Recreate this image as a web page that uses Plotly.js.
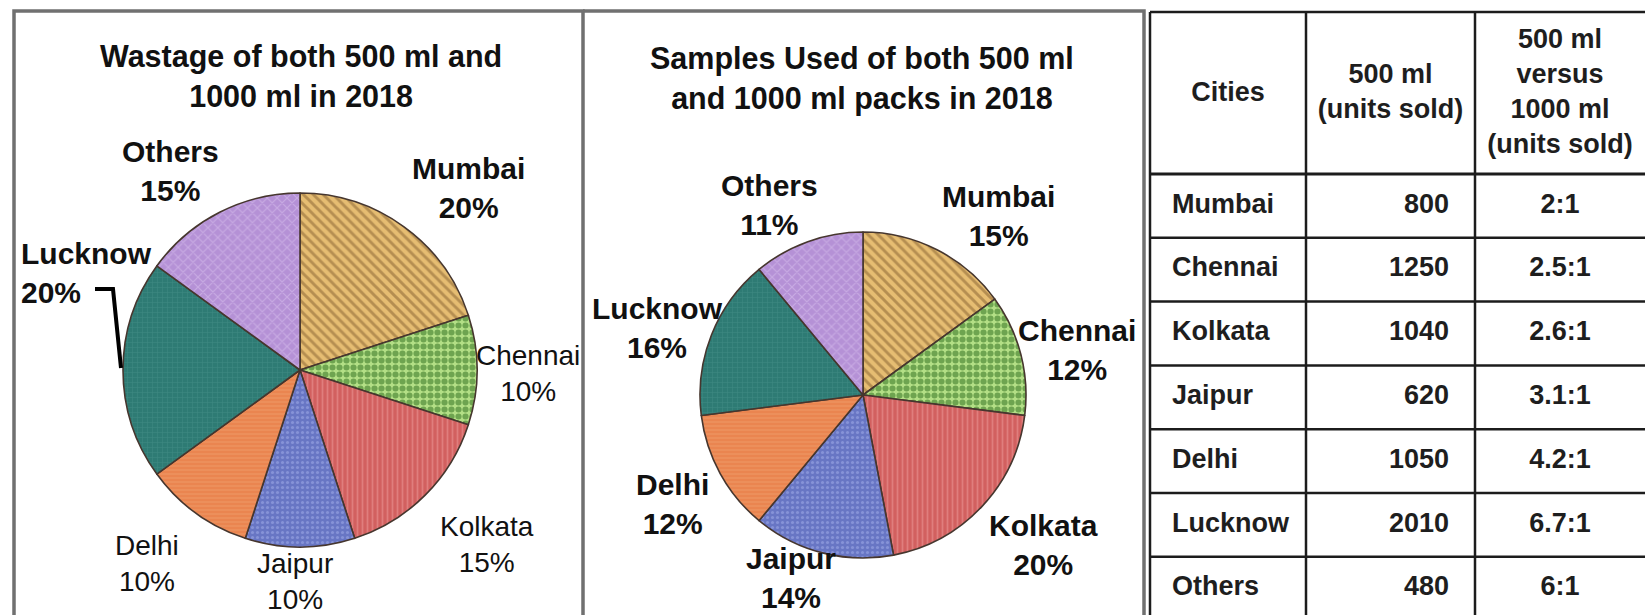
<!DOCTYPE html>
<html><head><meta charset="utf-8">
<script src="https://cdn.plot.ly/plotly-3.0.1.min.js"></script>
<style>html,body{margin:0;padding:0;background:#fff}#chart{width:1645px;height:615px}</style>
</head><body><div id="chart"></div>
<script>
// ---------- data ----------
const cities = ["Mumbai","Chennai","Kolkata","Jaipur","Delhi","Lucknow","Others"];
const wastagePct = [20,10,15,10,10,20,15];
const samplesPct = [15,12,20,14,12,16,11];
const units500 = [800,1250,1040,620,1050,2010,480];
const ratio500vs1000 = ["2:1","2.5:1","2.6:1","3.1:1","4.2:1","6.7:1","6:1"];
const tableHeaders = ["Cities","500 ml<br>(units sold)","500 ml<br>versus<br>1000 ml<br>(units sold)"];
const titleWastage = "Wastage of both 500 ml and<br>1000 ml in 2018";
const titleSamples = "Samples Used of both 500 ml<br>and 1000 ml packs in 2018";

// ---------- styles / layout constants ----------
const W = 1645, H = 615;
const FONT = "Liberation Sans, Arial, Helvetica, sans-serif";
const sliceColors = ["#e6bd72","#b3df86","#d2605f","#6876c4","#ea8550","#2e7b74","#b591d6"];
const patternFg   = ["#84602f","#2a6a1a","#ee9c9c","#a3b0ea","#f4aa7c","#4f9890","#dcc6f0"];
const patternShape= ["\\",".","|",".","-","+","x"];
const patternSize = [7,7,5,5,4,5,7];
const patternSolid= [0.42,0.6,0.35,0.3,0.25,0.2,0.3];

function pieDomain(cx, cy, r){
  return {x:[(cx-r)/W,(cx+r)/W], y:[(H-cy-r)/H,(H-cy+r)/H]};
}
function pieTrace(values, dom){
  return {
    type:'pie', labels:cities, values:values, sort:false, direction:'clockwise', rotation:0,
    textinfo:'none', hoverinfo:'label+percent', domain:dom, showlegend:false,
    marker:{colors:sliceColors, line:{color:'#46362e', width:1.6},
      pattern:{shape:patternShape, fgcolor:patternFg, size:patternSize, solidity:patternSolid, fillmode:'overlay'}}
  };
}

// label positions (pixel, centre) and weights for each pie
const leftLabelPos = [[468,188],[528,373],[487,544],[295,581],[147,563],[19,273],[170,171]];
const leftLabelBold= [true,false,false,false,false,true,true];
const rightLabelPos= [[998,216],[1077,350],[1043,545],[791,578],[672,504],[657,328],[769,205]];

const annotations = [];
function addLabels(pos, vals, boldArr){
  cities.forEach((c,i)=>{
    const isLeftAnchored = (pos[i][0] < 40);
    annotations.push({xref:'x', yref:'y', x:pos[i][0], y:pos[i][1], showarrow:false,
      text:c+"<br>"+vals[i]+"%", align: isLeftAnchored?'left':'center',
      xanchor: isLeftAnchored?'left':'center', yanchor:'middle',
      font:{family:FONT, size: boldArr[i]?30:28, color:'#111', weight: boldArr[i]?'bold':'normal'}});
  });
}
addLabels(leftLabelPos, wastagePct, leftLabelBold);
addLabels(rightLabelPos, samplesPct, cities.map(()=>true));

annotations.push({xref:'x', yref:'y', x:301, y:76, text:titleWastage, showarrow:false, xanchor:'center', yanchor:'middle',
  font:{family:FONT, size:30.5, color:'#111', weight:'bold'}});
annotations.push({xref:'x', yref:'y', x:862, y:78, text:titleSamples, showarrow:false, xanchor:'center', yanchor:'middle',
  font:{family:FONT, size:30.5, color:'#111', weight:'bold'}});

// ---------- table geometry ----------
const colX = [1150, 1306, 1475, 1660];
const tableTop = 12, headerBottom = 174, rowH = 63.8;
const rowY = cities.map((_,i)=> headerBottom + (i+0.5)*rowH);

const shapes = [];
// panel borders
const grey = {color:'#707070', width:3.5};
shapes.push({type:'path', xref:'x', yref:'y', path:`M 14 ${H+5} L 14 11 L 583 11 L 583 ${H+5}`, line:grey});
shapes.push({type:'path', xref:'x', yref:'y', path:`M 583 11 L 1144 11 L 1144 ${H+5}`, line:grey});
// table lines
const blk = {color:'#1c1c1c', width:2.5};
shapes.push({type:'line', xref:'x', yref:'y', x0:colX[0], x1:W+5, y0:tableTop, y1:tableTop, line:blk});
shapes.push({type:'line', xref:'x', yref:'y', x0:colX[0], x1:W+5, y0:headerBottom, y1:headerBottom, line:{color:'#1c1c1c', width:3}});
cities.forEach((_,i)=>{
  const y = headerBottom + (i+1)*rowH;
  shapes.push({type:'line', xref:'x', yref:'y', x0:colX[0], x1:W+5, y0:y, y1:y, line:blk});
});
colX.slice(0,3).forEach(x=>{
  shapes.push({type:'line', xref:'x', yref:'y', x0:x, x1:x, y0:tableTop, y1:H+5, line:blk});
});
// Lucknow leader line (left pie)
shapes.push({type:'path', xref:'x', yref:'y', path:'M 95 289 L 113 289 L 121 368', line:{color:'#000', width:4}});

const tFont = {family:FONT, size:27, color:'#1e1e1e', weight:'bold'};
const traces = [
  pieTrace(wastagePct, pieDomain(300,370,177)),
  pieTrace(samplesPct, pieDomain(863,395,163)),
  {type:'scatter', mode:'text', x:[ (colX[0]+colX[1])/2, (colX[1]+colX[2])/2, 1560 ], y:[94,94,94],
   text:tableHeaders, textposition:'middle center', textfont:tFont, hoverinfo:'skip', showlegend:false},
  {type:'scatter', mode:'text', x:cities.map(()=>colX[0]+22), y:rowY, text:cities,
   textposition:'middle right', textfont:tFont, hoverinfo:'skip', showlegend:false},
  {type:'scatter', mode:'text', x:cities.map(()=>colX[2]-26), y:rowY, text:units500.map(String),
   textposition:'middle left', textfont:tFont, hoverinfo:'skip', showlegend:false},
  {type:'scatter', mode:'text', x:cities.map(()=>1560), y:rowY, text:ratio500vs1000,
   textposition:'middle center', textfont:tFont, hoverinfo:'skip', showlegend:false}
];

const layout = {
  width:W, height:H, margin:{l:0,r:0,t:0,b:0}, paper_bgcolor:'#fff', plot_bgcolor:'rgba(0,0,0,0)',
  showlegend:false,
  xaxis:{range:[0,W], domain:[0,1], visible:false, fixedrange:true},
  yaxis:{range:[H,0], domain:[0,1], visible:false, fixedrange:true},
  annotations:annotations, shapes:shapes
};
Plotly.newPlot('chart', traces, layout, {displayModeBar:false, staticPlot:true});
</script></body></html>
